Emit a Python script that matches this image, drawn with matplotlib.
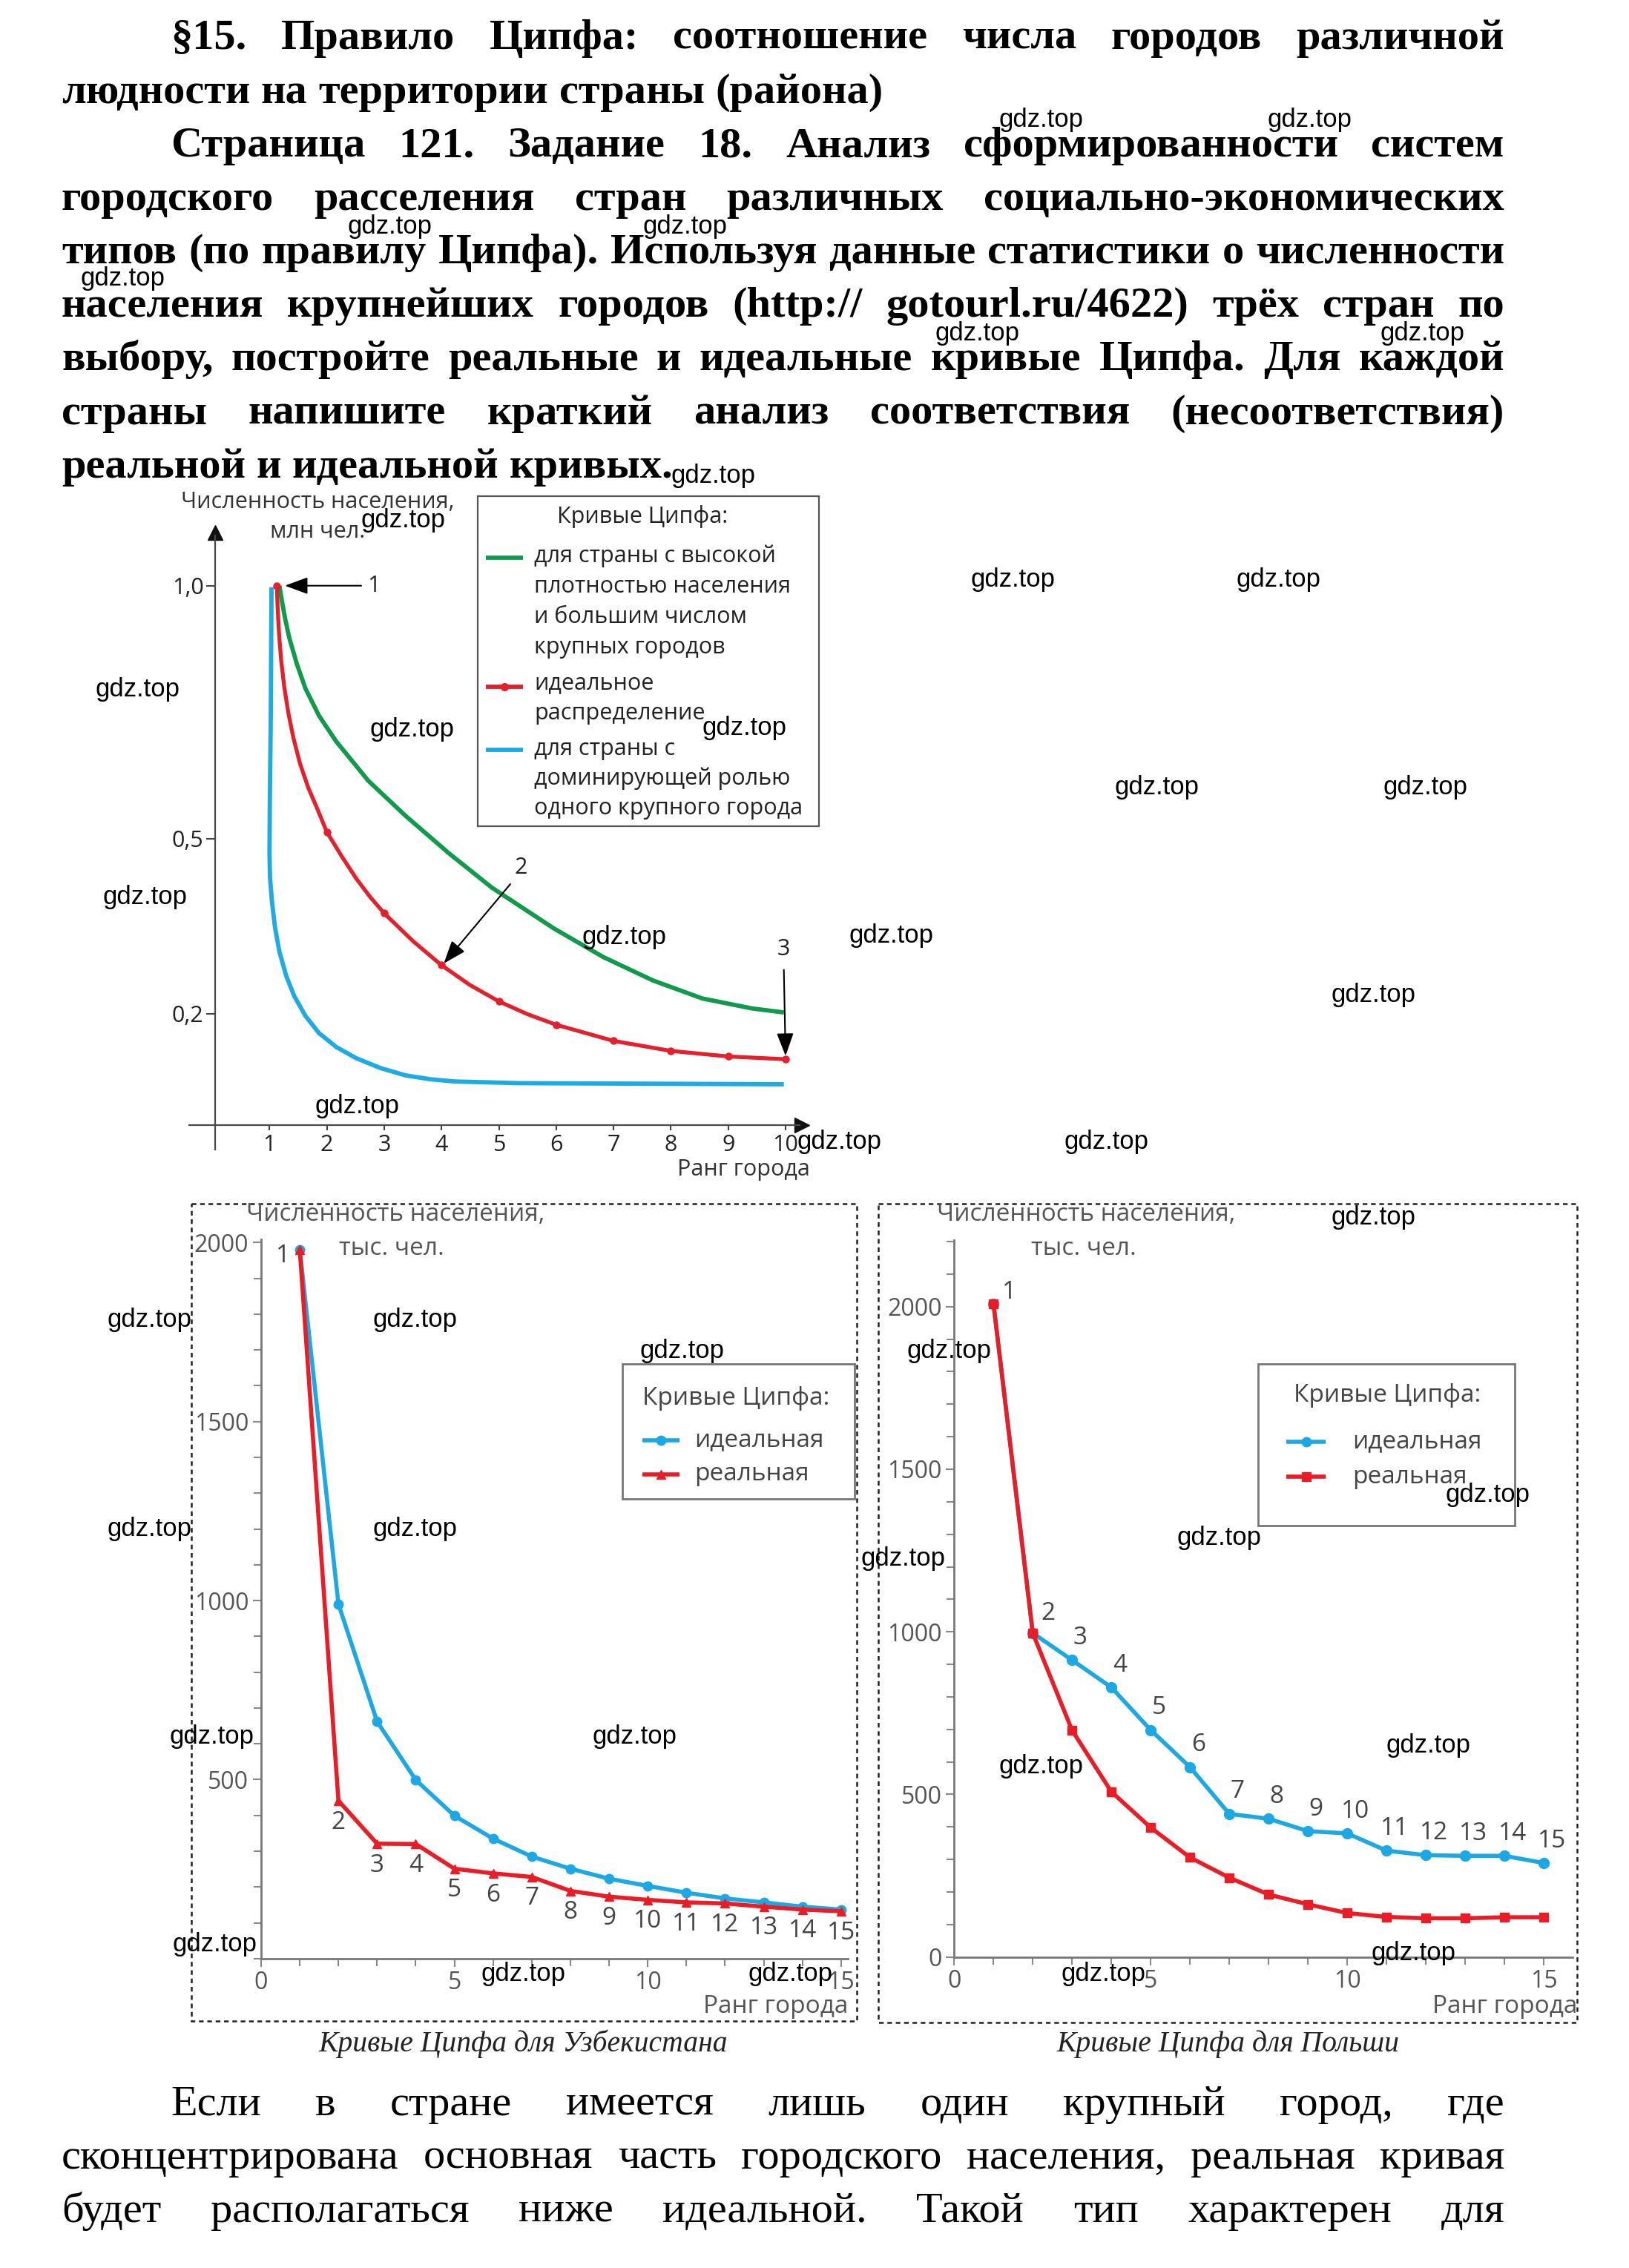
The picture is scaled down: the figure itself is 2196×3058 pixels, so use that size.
import numpy as np
import matplotlib
matplotlib.use("Agg")
import matplotlib.pyplot as plt
from matplotlib.patches import Rectangle
from matplotlib.ticker import MultipleLocator, NullLocator, FixedLocator

plt.rcParams["font.family"] = ["Open Sans", "DejaVu Sans"]

# ---------------- data ----------------
# schematic chart (values on the schematic million-people axis)
ideal_rank = [1.129, 1.142, 1.167, 1.203, 1.255, 1.326, 1.417, 1.533, 1.675, 1.837,
              2.0, 2.264, 2.51, 2.755, 3.0, 3.506, 4.0, 4.497, 5.0, 5.5,
              6.0, 7.0, 8.0, 9.0, 10.0]
ideal_value = [1.0, 0.956, 0.904, 0.853, 0.802, 0.750, 0.699, 0.648, 0.601, 0.558,
               0.513, 0.469, 0.432, 0.400, 0.372, 0.324, 0.283, 0.249, 0.221, 0.199,
               0.180, 0.151, 0.133, 0.123, 0.118]
ideal_dots = [0, 10, 14, 16, 18, 20, 21, 22, 23, 24]

dense_rank = [1.173, 1.216, 1.274, 1.345, 1.475, 1.626, 1.863, 2.164, 2.726, 3.373,
              4.127, 4.877, 5.96, 6.821, 7.684, 8.547, 9.409, 9.97]
dense_value = [1.0, 0.970, 0.934, 0.897, 0.846, 0.797, 0.743, 0.692, 0.614, 0.545,
               0.475, 0.416, 0.346, 0.297, 0.257, 0.226, 0.209, 0.202]

primate_rank = [1.035, 1.022, 1.006, 1.0, 1.009, 1.044, 1.096, 1.173, 1.294, 1.432,
                1.626, 1.863, 2.164, 2.51, 2.94, 3.373, 3.803, 4.234, 5.356, 9.97]
primate_value = [0.997, 0.736, 0.574, 0.475, 0.433, 0.391, 0.348, 0.306, 0.264, 0.230,
                 0.196, 0.165, 0.140, 0.120, 0.102, 0.089, 0.082, 0.078, 0.075, 0.073]

top_yticks = [0.2, 0.5, 1.0]
top_yticklabels = ["0,2", "0,5", "1,0"]
top_xticks = list(range(1, 11))

ranks = list(range(1, 16))
uzb_ideal = [1980, 990, 662, 499, 399, 335, 285, 251, 223, 203, 184, 168, 157, 145, 137]
uzb_real = [1980, 441, 321, 320, 251, 238, 228, 189, 173, 164, 157, 154, 145, 137, 132]
pol_ideal = [2009, 996, 913, 829, 698, 584, 440, 425, 387, 380, 327, 313, 311, 311, 289]
pol_real = [2009, 996, 697, 508, 398, 306, 244, 192, 162, 135, 123, 119, 119, 122, 122]

title_lines = [
    "§15. Правило Ципфа: соотношение числа городов различной",
    "людности на территории страны (района)",
    "Страница 121. Задание 18. Анализ сформированности систем",
    "городского расселения стран различных социально-экономических",
    "типов (по правилу Ципфа). Используя данные статистики о численности",
    "населения крупнейших городов (http:// gotourl.ru/4622) трёх стран по",
    "выбору, постройте реальные и идеальные кривые Ципфа. Для каждой",
    "страны напишите краткий анализ соответствия (несоответствия)",
    "реальной и идеальной кривых.",
]
body_lines = [
    "Если в стране имеется лишь один крупный город, где",
    "сконцентрирована основная часть городского населения, реальная кривая",
    "будет располагаться ниже идеальной. Такой тип характерен для",
]

# ---------------- figure ----------------
W, H = 2196, 3058
fig = plt.figure(figsize=(W / 100, H / 100), dpi=100)
fig.patch.set_facecolor("white")

SERIF = "Liberation Serif"
MARK = "Liberation Sans"
GREEN, RED, BLUE = "#0f9a4c", "#e3202b", "#1eaae2"
RED2, BLUE2 = "#ea1d27", "#1ca8e4"


def box(x0, y0, x1, y1):
    return [x0 / W, 1 - y1 / H, (x1 - x0) / W, (y1 - y0) / H]


ov = fig.add_axes([0, 0, 1, 1], zorder=5)
ov.set_xlim(0, W)
ov.set_ylim(H, 0)
ov.axis("off")
ov.patch.set_alpha(0)

renderer = fig.canvas.get_renderer()


def put_line(line, x0, x1, base, size, weight, justify):
    words = line.split()
    texts = [ov.text(0, base, w, fontsize=size, fontweight=weight, family=SERIF,
                     ha="left", va="baseline", color="black") for w in words]
    ws = [t.get_window_extent(renderer).width for t in texts]
    n = len(ws)
    space = 0.25 * size * 100 / 72
    if justify and n > 1:
        gap = (x1 - x0 - sum(ws)) / (n - 1)
        if gap < 0.6 * space:
            k = (x1 - x0 - 0.6 * space * (n - 1)) / sum(ws)
            for t in texts:
                t.set_fontsize(size * k)
            ws = [t.get_window_extent(renderer).width for t in texts]
            gap = (x1 - x0 - sum(ws)) / (n - 1)
    else:
        gap = space
    x = x0
    for t, w in zip(texts, ws):
        t.set_x(x)
        x += w + gap


LM, RM, IND = 83, 2028, 230
title_base = [66, 139, 211, 283, 355, 427, 499, 572, 644]
title_indent = [IND, LM, IND, LM, LM, LM, LM, LM, LM]
title_just = [True, False, True, True, True, True, True, True, False]
for ln, b, x0, j in zip(title_lines, title_base, title_indent, title_just):
    put_line(ln, x0, RM, b, 42, "bold", j)

body_base = [2852, 2924, 2996]
body_indent = [IND, LM, LM]
for ln, b, x0 in zip(body_lines, body_base, body_indent):
    put_line(ln, x0, RM, b, 42, "normal", True)

# ---------------- top schematic chart ----------------
ANCH_V = [-1.0, 0.0, 0.2, 0.5, 1.0, 2.0]
ANCH_P = [-750.0, 0.0, 150.0, 386.0, 727.0, 1409.0]


def fwd(v):
    return np.interp(v, ANCH_V, ANCH_P)


def inv(p):
    return np.interp(p, ANCH_P, ANCH_V)


AX_Y = 1516.7
ax1 = fig.add_axes(box(255, 707, 1092, 1550))
ax1.set_yscale("function", functions=(fwd, inv))
ax1.set_xlim(-31 / 77.3, 806 / 77.3)
ax1.set_ylim(float(inv(AX_Y - 1550)), float(inv(AX_Y - 707)))
ax1.patch.set_alpha(0)
for s in ["top", "right"]:
    ax1.spines[s].set_visible(False)
ax1.spines["left"].set_position(("data", 0.05))
ax1.spines["bottom"].set_position(("data", 0))
ax1.spines["left"].set_bounds(float(inv(AX_Y - 1550)), float(inv(AX_Y - 722)))
ax1.spines["bottom"].set_bounds(-31 / 77.3, (1078 - 286) / 77.3)
for s in ["left", "bottom"]:
    ax1.spines[s].set_color("#4a4a4a")
    ax1.spines[s].set_linewidth(1.6)
ax1.plot([0.05], [float(inv(AX_Y - 718))], marker="^", ms=15, color="#111", clip_on=False)
ax1.plot([(1081 - 286) / 77.3], [0], marker=">", ms=15, color="#111", clip_on=False)

ax1.xaxis.set_major_locator(FixedLocator(top_xticks))
ax1.yaxis.set_major_locator(FixedLocator(top_yticks))
ax1.yaxis.set_minor_locator(NullLocator())
ax1.xaxis.set_minor_locator(NullLocator())
ax1.set_yticklabels(top_yticklabels)
ax1.tick_params(axis="x", direction="out", length=5, width=1.5, color="#444",
                labelsize=22, labelcolor="#222", pad=4)
ax1.tick_params(axis="y", direction="out", length=9, width=1.5, color="#444",
                labelsize=22, labelcolor="#222", pad=2)

ax1.plot(dense_rank, dense_value, color=GREEN, lw=4.2, solid_capstyle="butt",
         solid_joinstyle="round", zorder=3)
ax1.plot(primate_rank, primate_value, color=BLUE, lw=4.2, solid_capstyle="butt",
         solid_joinstyle="round", zorder=3)
ax1.plot(ideal_rank, ideal_value, color=RED, lw=3.8, marker="o", ms=6.5,
         markevery=ideal_dots, solid_capstyle="butt", solid_joinstyle="round",
         zorder=4, clip_on=False)

ap = dict(arrowstyle="-|>,head_length=1.35,head_width=0.5", color="black", lw=1.5,
          mutation_scale=14, shrinkA=0, shrinkB=0)
ax1.annotate("", xy=(1.27, 1.0), xytext=(2.6, 1.0), arrowprops=ap)
ax1.text(2.82, 1.0, "1", fontsize=22, color="#222", ha="center", va="center")
ax1.annotate("", xy=(4.04, 0.286), xytext=(5.2, 0.422), arrowprops=ap)
ax1.text(5.38, 0.45, "2", fontsize=22, color="#222", ha="center", va="center")
ax1.annotate("", xy=(10.0, 0.124), xytext=(9.97, 0.275), arrowprops=ap)
ax1.text(9.97, 0.31, "3", fontsize=22, color="#222", ha="center", va="center")

ov.text(244, 677, "Численность населения,", fontsize=22, color="#333", va="center")
ov.text(364, 717, "млн чел.", fontsize=22, color="#333", va="center")
ov.text(1092, 1577, "Ранг города", fontsize=22, color="#333", va="center", ha="right")

# legend of the schematic chart
ov.add_patch(Rectangle((643.5, 668.5), 460, 445, facecolor="white", edgecolor="#555", lw=1.6))
ov.text(866, 697, "Кривые Ципфа:", fontsize=22, color="#222", ha="center", va="center")
leg_lines = [("для страны с высокой", 750), ("плотностью населения", 791),
             ("и большим числом", 832), ("крупных городов", 873),
             ("идеальное", 921), ("распределение", 962),
             ("для страны с", 1010), ("доминирующей ролью", 1050),
             ("одного крупного города", 1090)]
for txt, yy in leg_lines:
    ov.text(720, yy, txt, fontsize=22, color="#222", va="center")
ov.plot([655, 705], [752, 752], color=GREEN, lw=4.2, solid_capstyle="butt")
ov.plot([655, 705], [926, 926], color=RED, lw=4.2, solid_capstyle="butt")
ov.plot([680], [926], marker="o", ms=7, color=RED)
ov.plot([655, 705], [1011, 1011], color=BLUE, lw=4.2, solid_capstyle="butt")


# ---------------- lower charts ----------------
def lower_axes(rect, xmax, ymax, ymajor):
    ax = fig.add_axes(rect)
    ax.set_xlim(0, xmax)
    ax.set_ylim(0, ymax)
    ax.patch.set_alpha(0)
    for s in ["top", "right"]:
        ax.spines[s].set_visible(False)
    for s in ["left", "bottom"]:
        ax.spines[s].set_color("#777")
        ax.spines[s].set_linewidth(2)
    ax.xaxis.set_major_locator(FixedLocator([0, 5, 10, 15]))
    ax.xaxis.set_minor_locator(MultipleLocator(1))
    ax.yaxis.set_major_locator(FixedLocator(ymajor))
    ax.yaxis.set_minor_locator(MultipleLocator(100))
    ax.tick_params(which="both", direction="out", color="#888", width=1.5,
                   labelsize=23, labelcolor="#555")
    ax.tick_params(which="major", length=8, pad=4)
    ax.tick_params(which="minor", length=7)
    return ax


ax2 = lower_axes(box(352, 1671.5, 1143, 2640.8), (1143 - 352) / 52.12,
                 (2640.8 - 1671.5) / 0.48275, [500, 1000, 1500, 2000])
ax2.plot(ranks, uzb_ideal, color=BLUE2, lw=4, marker="o", ms=9, clip_on=False, zorder=3)
ax2.plot(ranks, uzb_real, color=RED2, lw=4, marker="^", ms=9, clip_on=False, zorder=4)
for r, v in zip(ranks, uzb_real):
    off = (-16, -6.5) if r == 1 else (0, -21)
    ax2.annotate(str(r), (r, v), xytext=off, textcoords="offset points", fontsize=24,
                 color="#444", ha="center", va="center")

ax3 = lower_axes(box(1286.3, 1671.5, 2119.5, 2638.6), (2119.5 - 1286.3) / 52.98,
                 (2638.6 - 1671.5) / 0.4384, [0, 500, 1000, 1500, 2000])
ax3.plot(ranks, pol_ideal, color=BLUE2, lw=4, marker="o", ms=10, clip_on=False, zorder=3)
ax3.plot(ranks, pol_real, color=RED2, lw=4, marker="s", ms=9, clip_on=False, zorder=4)
for r, v in zip(ranks, pol_ideal):
    off = {1: (15, 11), 2: (15, 19)}.get(r, (8, 21.5))
    ax3.annotate(str(r), (r, v), xytext=off, textcoords="offset points", fontsize=24,
                 color="#444", ha="center", va="center")

# legends of the lower charts (drawn as framed boxes)
for (bx0, by0, bx1, by1, tx, ty, sx0, sx1, lx, ys, mk) in [
        (838.5, 1839, 1152, 2021, 866, 1886, 866, 916, 936, (1942, 1988), "^"),
        (1696, 1839, 2042, 2057, 1744, 1882, 1734, 1787, 1823, (1944, 1991), "s")]:
    ov.add_patch(Rectangle((bx0, by0), bx1 - bx0, by1 - by0, facecolor="white",
                           edgecolor="#777", lw=2))
    ov.text(tx, ty, "Кривые Ципфа:", fontsize=24, color="#444", va="center")
    for (lab, col, m), yy in zip([("идеальная", BLUE2, "o"), ("реальная", RED2, mk)], ys):
        ov.plot([sx0, sx1], [yy, yy], color=col, lw=4, solid_capstyle="butt")
        ov.plot([(sx0 + sx1) / 2], [yy], marker=m, ms=9, color=col)
        ov.text(lx, yy, lab, fontsize=24, color="#444", va="center")

for xl, xr in [(332, 457), (1263, 1390)]:
    ov.text(xl, 1638, "Численность населения,", fontsize=24, color="#555", va="center")
    ov.text(xr, 1683, "тыс. чел.", fontsize=24, color="#555", va="center")
ov.text(1143, 2705, "Ранг города", fontsize=24, color="#555", va="center", ha="right")
ov.text(2126, 2705, "Ранг города", fontsize=24, color="#555", va="center", ha="right")

ov.add_patch(Rectangle((258, 1622.6), 897, 1102.4, fill=False, ls=(0, (2.5, 2)), lw=1.8, ec="#222"))
ov.add_patch(Rectangle((1183.6, 1622.6), 942.4, 1104, fill=False, ls=(0, (2.5, 2)), lw=1.8, ec="#222"))

ov.text(705, 2766, "Кривые Ципфа для Узбекистана", family=SERIF, style="italic",
        fontsize=28.5, color="#222", ha="center", va="baseline")
ov.text(1655, 2766, "Кривые Ципфа для Польши", family=SERIF, style="italic",
        fontsize=28.5, color="#222", ha="center", va="baseline")

# ---------------- watermarks ----------------
marks = [(1404, 162), (1765, 162), (525, 306), (924, 306), (166, 376), (1318, 450),
         (1917, 450), (961, 642), (544, 702), (1365, 782), (1724, 782), (185, 930),
         (556, 984), (1004, 981), (1560, 1061), (1921, 1061), (195, 1209), (841, 1263),
         (1201, 1262), (1852, 1342), (482, 1492), (1131, 1540), (1492, 1540),
         (1852, 1642), (201, 1780), (560, 1780), (920, 1821), (1279, 1821),
         (201, 2061), (560, 2061), (2005, 2016), (1644, 2073), (1217, 2102),
         (285, 2342), (856, 2342), (1404, 2381), (1925, 2354), (289, 2621),
         (706, 2662), (1065, 2662), (1488, 2662), (1905, 2634)]
for x, y in marks:
    ov.text(x, y, "gdz.top", family=MARK, fontsize=25, color="black",
            ha="center", va="center", zorder=20)

fig.savefig("out.png", dpi=100, facecolor="white")
